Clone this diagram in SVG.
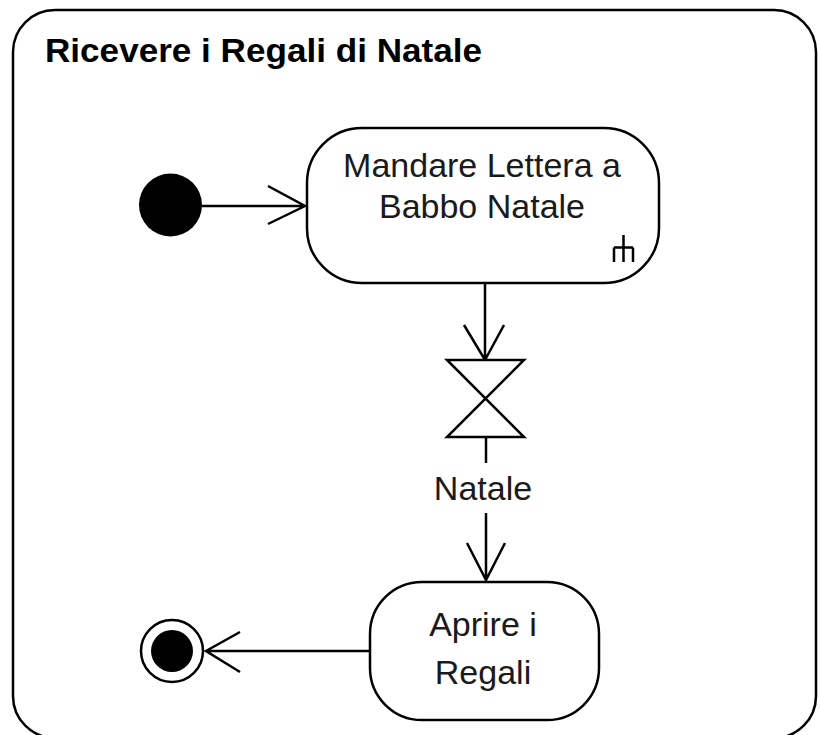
<svg xmlns="http://www.w3.org/2000/svg" width="820" height="735" viewBox="0 0 820 735">
<style>
.s{fill:none;stroke:#000;stroke-width:2.5}
.n{fill:#fff;stroke:#000;stroke-width:2.5}
.t{font-family:"Liberation Sans",Arial,sans-serif;font-size:34px;fill:#1a1a1a;text-anchor:middle}
.title{font-family:"Liberation Sans",Arial,sans-serif;font-size:33px;font-weight:bold;fill:#000}
</style>
<rect width="820" height="735" fill="#fff"/>
<g id="frame">
<rect class="s" x="13" y="10" width="803" height="728" rx="42"/>
<text class="title" x="45" y="62" textLength="437" lengthAdjust="spacingAndGlyphs">Ricevere i Regali di Natale</text>
</g>
<g id="connectors" class="s">
<path d="M202 206H305M268 186L305 206L268 224"/>
<path d="M485 283V360M464 325L485 360L504 325"/>
<path d="M486 437V463"/>
<path d="M486 513V580M467 543L486 580L505 543"/>
<path d="M370 651H206M240 632L206 651L240 672"/>
</g>
<g id="initial">
<circle cx="170.5" cy="205" r="31.5" fill="#000"/>
</g>
<g id="action1">
<rect class="n" x="307" y="128" width="352" height="155" rx="55"/>
<text class="t" x="482" y="177">Mandare Lettera a</text>
<text class="t" x="482" y="218">Babbo Natale</text>
<path class="s" d="M623.5 235V262M614 247.5H633M614 247.5V262M633 247.5V262" stroke-width="2"/>
</g>
<g id="timeEvent">
<path class="n" d="M447 360H524L447 437H524Z" stroke-linejoin="miter"/>
</g>
<g id="label">
<text class="t" x="483" y="500">Natale</text>
</g>
<g id="action2">
<rect class="n" x="370" y="582" width="229" height="138" rx="52"/>
<text class="t" x="483" y="636">Aprire i</text>
<text class="t" x="483" y="684">Regali</text>
</g>
<g id="final">
<circle class="n" cx="172" cy="651" r="31"/>
<circle cx="172" cy="651" r="21" fill="#000"/>
</g>
</svg>
